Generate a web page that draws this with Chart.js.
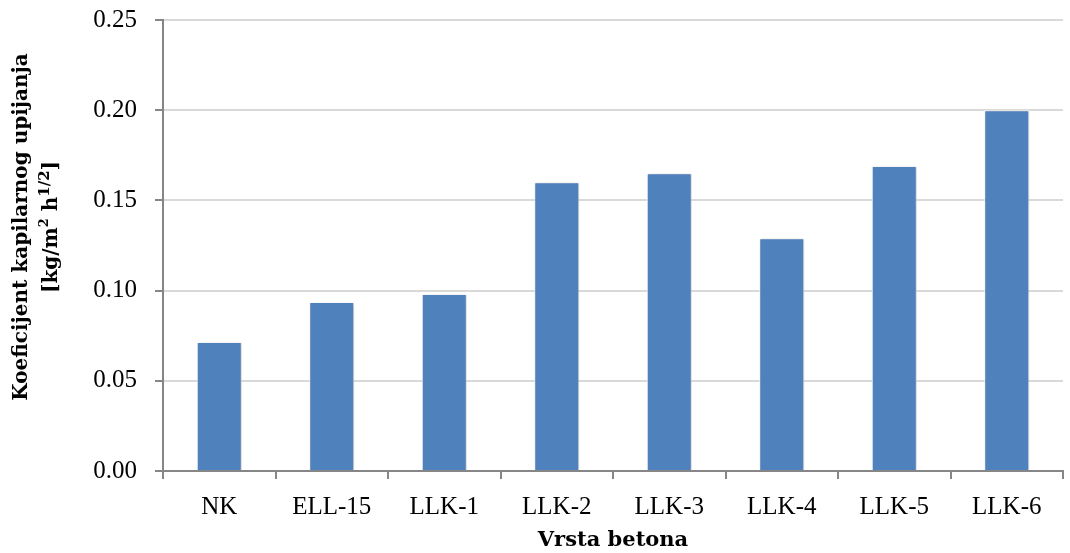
<!DOCTYPE html>
<html>
<head>
<meta charset="utf-8">
<script src="https://cdn.jsdelivr.net/npm/chart.js@4"></script>
<style>
  html, body { margin: 0; padding: 0; background: #fff; }
  #wrap { width: 1070px; height: 553px; }
</style>
</head>
<body>
<div id="wrap"><canvas id="myChart"></canvas></div>
<script>
const categories = ['NK', 'ELL-15', 'LLK-1', 'LLK-2', 'LLK-3', 'LLK-4', 'LLK-5', 'LLK-6'];
const values = [0.0715, 0.0937, 0.0981, 0.160, 0.165, 0.129, 0.169, 0.200];
const yTicks = [0, 0.05, 0.10, 0.15, 0.20, 0.25];

const TICKFONT = "'Liberation Serif', 'DejaVu Serif', serif";
const BOLDFONT = "'DejaVu Serif', 'Liberation Serif', serif";

// y axis title with superscripts
const yTitle = {
  id: 'yTitle',
  afterDraw(chart) {
    const c = chart.ctx;
    const cy = 227;
    c.save();
    c.fillStyle = '#000';
    c.textBaseline = 'middle';

    // line 1
    c.save();
    c.translate(22, cy);
    c.rotate(-Math.PI / 2);
    c.font = 'bold 20px ' + BOLDFONT;
    c.textAlign = 'center';
    c.fillText('Koeficijent kapilarnog upijanja', 0, 0);
    c.restore();

    // line 2: [kg/m2 h1/2] with superscripts
    const parts = [
      ['[kg/m', 20, 0], ['2', 13, -7], [' h', 20, 0], ['1/2', 15, -7], [']', 20, 0]
    ];
    let total = 0;
    parts.forEach(p => { c.font = 'bold ' + p[1] + 'px ' + BOLDFONT; total += c.measureText(p[0]).width; });
    c.save();
    c.translate(52, cy);
    c.rotate(-Math.PI / 2);
    c.textAlign = 'left';
    let x = -total / 2;
    parts.forEach(p => {
      c.font = 'bold ' + p[1] + 'px ' + BOLDFONT;
      c.fillText(p[0], x, p[2]);
      x += c.measureText(p[0]).width;
    });
    c.restore();
    c.restore();
  }
};

// soft shadow behind the bars
const barShadow = {
  id: 'barShadow',
  beforeDatasetsDraw(chart) {
    const c = chart.ctx;
    c.save();
    c.shadowColor = 'rgba(0,0,0,0.28)';
    c.shadowBlur = 3;
    c.shadowOffsetX = 1;
    c.shadowOffsetY = 1;
  },
  afterDatasetsDraw(chart) {
    chart.ctx.restore();
  }
};

const ctx = document.getElementById('myChart');
const myChart = new Chart(ctx, {
  type: 'bar',
  data: {
    labels: categories,
    datasets: [{
      data: values,
      backgroundColor: '#4F81BD',
      borderColor: '#ffffff',
      borderWidth: 1,
      categoryPercentage: 1,
      barPercentage: 0.4
    }]
  },
  options: {
    responsive: true,
    maintainAspectRatio: false,
    animation: false,
    devicePixelRatio: 1,
    layout: { padding: { top: 20, right: 7, left: 0, bottom: 0 } },
    plugins: {
      legend: { display: false },
      tooltip: { enabled: false }
    },
    scales: {
      y: {
        min: 0,
        max: 0.25,
        afterBuildTicks(scale) {
          scale.ticks = yTicks.map(v => ({ value: v }));
        },
        afterFit(scale) {
          scale.width = 163;
          scale.paddingTop = 0;
          scale.paddingBottom = 0;
        },
        border: { color: '#868686', width: 2 },
        grid: { color: '#d9d9d9', lineWidth: 2, tickColor: '#868686', tickLength: 8 },
        ticks: {
          color: '#000',
          padding: 18,
          font: { family: TICKFONT, size: 25 },
          callback: v => Number(v).toFixed(2)
        }
      },
      x: {
        afterFit(scale) {
          scale.height = 82;
          scale.paddingLeft = 0;
          scale.paddingRight = 0;
        },
        border: { color: '#868686', width: 2 },
        grid: { drawOnChartArea: false, offset: true, tickColor: '#868686', tickLength: 8, lineWidth: 2 },
        ticks: {
          color: '#000',
          padding: 13,
          maxRotation: 0,
          font: { family: TICKFONT, size: 25 }
        },
        title: {
          display: true,
          text: 'Vrsta betona',
          color: '#000',
          padding: { top: 2, bottom: 0 },
          font: { family: BOLDFONT, size: 21, weight: 'bold' }
        }
      }
    }
  },
  plugins: [yTitle, barShadow]
});
</script>
</body>
</html>
